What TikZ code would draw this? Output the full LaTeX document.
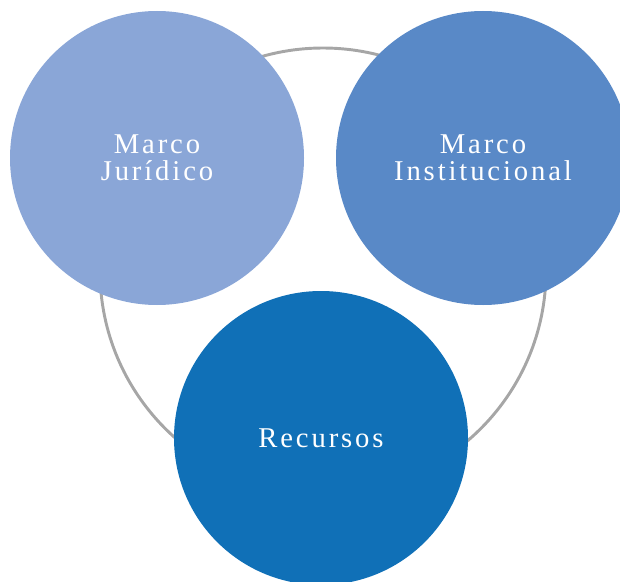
\documentclass[tikz,border=0pt]{standalone}
\usepackage{fontspec}
\setmainfont{Liberation Serif}
\newfontfamily\spacedfont[LetterSpace=10]{Liberation Serif}
\definecolor{ringgray}{RGB}{166,166,166}
\definecolor{cjur}{RGB}{138,166,215}
\definecolor{cinst}{RGB}{89,137,199}
\definecolor{crec}{RGB}{16,112,183}
\begin{document}
\begin{tikzpicture}[x=0.75pt,y=-0.75pt,
  bubble/.style={circle,minimum size=220.5pt,inner sep=0pt,draw=none,text=white,align=center,
    font=\spacedfont\fontsize{21.5}{20}\selectfont}]
\useasboundingbox (0,0) rectangle (620,581);
\clip (0,0) rectangle (620,581);
\coordinate (ringc) at (323,271);
\draw[ringgray,line width=2.2pt] (ringc) circle [radius=223];
\node[bubble,fill=cjur] (jur) at (157,158) {Marco\\Jurídico};
\node[bubble,fill=cinst] (inst) at (483,158) {Marco\\Institucional};
\node[bubble,fill=crec] (rec) at (321,438) {Recursos};
\end{tikzpicture}
\end{document}
